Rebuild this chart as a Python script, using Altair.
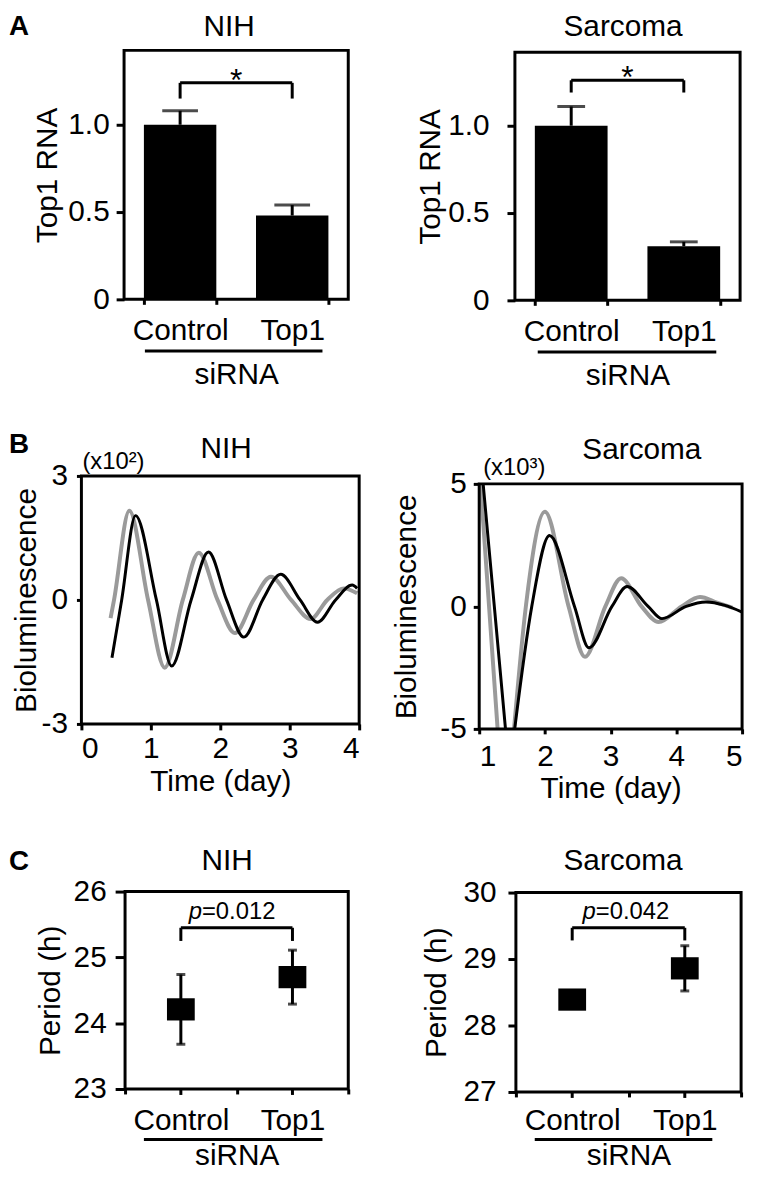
import altair as alt
import pandas as pd

FONT = "Liberation Sans"
GROUPS = ["Control", "Top1"]

# ---------------- Panel A : Top1 RNA (mean, upper error) ----------------
a_nih_mean = [1.00, 0.48]
a_nih_err = [0.08, 0.06]
a_sar_mean = [1.00, 0.31]
a_sar_err = [0.11, 0.025]
a_nih_bracket = [1.15, 1.24]   # leg bottom, bracket level
a_sar_bracket = [1.19, 1.26]

# ---------------- Panel B : bioluminescence traces (visible segments) ----------------
b_nih_ctrl_day = [0.42, 0.47, 0.69, 0.96, 1.20, 1.46, 1.69, 1.96, 2.21, 2.48, 2.73, 3.02, 3.30, 3.54, 3.78, 3.97]
b_nih_ctrl_val = [-0.44, 0.0, 2.16, 0.0, -1.64, 0.0, 1.14, 0.0, -0.80, 0.0, 0.56, 0.0, -0.46, 0.0, 0.28, 0.16]
b_nih_top1_day = [0.44, 0.58, 0.78, 1.08, 1.30, 1.58, 1.83, 2.09, 2.34, 2.61, 2.87, 3.15, 3.40, 3.66, 3.90, 3.97]
b_nih_top1_val = [-1.40, 0.0, 2.04, 0.0, -1.60, 0.0, 1.16, 0.0, -0.90, 0.0, 0.62, 0.0, -0.54, 0.0, 0.36, 0.28]

b_sar_ctrl_day = [1.02, 1.15, 1.28, 1.53, 1.71, 2.00, 2.36, 2.61, 2.92, 3.16, 3.47, 3.73, 4.08, 4.36, 4.62, 4.85]
b_sar_ctrl_val = [5.0, 0.0, -5.0, -5.0, 0.0, 3.86, 0.0, -2.06, 0.0, 1.15, 0.0, -0.64, 0.0, 0.38, 0.15, -0.05]
b_sar_ctrl_seg = [0, 0, 0, 1, 1, 1, 1, 1, 1, 1, 1, 1, 1, 1, 1, 1]
b_sar_top1_day = [1.06, 1.23, 1.40, 1.54, 1.80, 2.07, 2.45, 2.67, 3.02, 3.25, 3.57, 3.78, 4.15, 4.45, 4.74, 5.00]
b_sar_top1_val = [5.0, 0.0, -5.0, -5.0, 0.0, 2.89, 0.0, -1.69, 0.0, 0.81, 0.0, -0.50, 0.0, 0.18, 0.04, -0.23]
b_sar_top1_seg = [0, 0, 0, 1, 1, 1, 1, 1, 1, 1, 1, 1, 1, 1, 1, 1]

# ---------------- Panel C : period ----------------
c_nih_mean = [24.21, 24.70]
c_nih_err = [0.53, 0.41]
c_sar_mean = [28.39, 28.86]
c_sar_err = [0.08, 0.34]
c_nih_bracket = [25.25, 25.45]
c_sar_bracket = [29.28, 29.47]
c_nih_p = ["p", "=0.012", 25.58]
c_sar_p = ["p", "=0.042", 29.60]

# ---------------- layout (page pixels): plot box and cell box ----------------
GEOM = {
    "a_nih": dict(px=125, py=46, W=226, H=251, cell=(8, 8, 388, 402)),
    "a_sar": dict(px=519, py=48, W=227, H=250, cell=(388, 8, 758, 402)),
    "b_nih": dict(px=82, py=475, W=280, H=250, cell=(8, 402, 388, 812)),
    "b_sar": dict(px=483, py=483, W=265, H=247, cell=(388, 402, 758, 812)),
    "c_nih": dict(px=126, py=894, W=225, H=199, cell=(8, 812, 388, 1176)),
    "c_sar": dict(px=520, py=895, W=227, H=201, cell=(388, 812, 758, 1176)),
}

P_IN = 0.354
RECT = "M-1,-0.8H1V0.8H-1Z"


def geo(g):
    cx1, cy1, cx2, cy2 = g["cell"]
    L, T = g["px"] - cx1, g["py"] - cy1
    return L, T, g["W"], g["H"], cx2 - cx1, cy2 - cy1


def text_at(g, txt, x, y, size, weight="normal", align="left"):
    cx1, cy1 = g["cell"][0], g["cell"][1]
    return alt.Chart(pd.DataFrame({"t": [txt]})).mark_text(
        font=FONT, fontSize=size, fontWeight=weight, align=align,
        baseline="alphabetic", color="black"
    ).encode(text="t:N", x=alt.value(x - cx1), y=alt.value(y - cy1))


def box(g):
    L, T, W, H, _, _ = geo(g)
    return alt.Chart(pd.DataFrame({"f": [0]})).mark_rect(
        fillOpacity=0, stroke="black", strokeWidth=3).encode(
        x=alt.value(L), x2=alt.value(L + W), y=alt.value(T), y2=alt.value(T + H))


def underline(g, x1, x2, y):
    cx1, cy1 = g["cell"][0], g["cell"][1]
    return alt.Chart(pd.DataFrame({"f": [0]})).mark_rule(color="black", strokeWidth=3).encode(
        x=alt.value(x1 - cx1), x2=alt.value(x2 - cx1), y=alt.value(y - cy1))


def heads(g, title, tx, ty, letter=None, lxy=None):
    out = [box(g), text_at(g, title, tx, ty, 30, align="center")]
    if letter:
        out.append(text_at(g, letter, lxy[0], lxy[1], 28, weight="bold"))
    return out


def bar_panel(g, title, means, errs, bracket, ymax, ylab, ytit, xlab, xtit, cap_w, ul, head):
    L, T, W, H, CW, CH = geo(g)
    df = pd.DataFrame({"group": GROUPS, "mean": means,
                       "hi": [m + e for m, e in zip(means, errs)]})
    xs = alt.Scale(domain=GROUPS, range=[L, L + W], paddingInner=P_IN, paddingOuter=P_IN / 2)
    ys = alt.Scale(domain=[0, ymax], range=[T + H, T], nice=False, zero=True)
    xaxis = alt.Axis(title="siRNA", tickBand="extent", labelAngle=0, tickSize=5,
                     labelPadding=xlab, titlePadding=xtit, offset=T + H - CH)
    yaxis = alt.Axis(title="Top1 RNA", values=[0, 0.5, 1.0],
                     labelExpr="datum.value == 0 ? '0' : format(datum.value, '.1f')",
                     tickSize=8, labelPadding=ylab, titlePadding=ytit, offset=-L)

    def X(f, **kw):
        return alt.X(f, scale=xs, axis=xaxis, **kw)

    def Y(f, **kw):
        return alt.Y(f, scale=ys, axis=yaxis, **kw)

    base = alt.Chart(df)
    bars = base.mark_bar(color="black").encode(x=X("group:N"), y=Y("mean:Q"))
    err = base.mark_rule(color="black", strokeWidth=3).encode(
        x=X("group:N"), y=Y("mean:Q"), y2="hi:Q")
    cap = base.mark_tick(color="black", thickness=3, size=cap_w).encode(
        x=X("group:N"), y=Y("hi:Q"))
    br = pd.DataFrame({"group": ["Control"], "group2": ["Top1"],
                       "lo": [bracket[0]], "top": [bracket[1]]})
    hline = alt.Chart(br).mark_rule(color="black", strokeWidth=3).encode(
        x=X("group:N", bandPosition=0.5),
        x2=alt.X2(field="group2", bandPosition=0.5),
        y=Y("top:Q"))
    legs_df = pd.DataFrame({"group": GROUPS, "lo": [bracket[0]] * 2, "top": [bracket[1]] * 2})
    legs = alt.Chart(legs_df).mark_rule(color="black", strokeWidth=3).encode(
        x=X("group:N"), y=Y("lo:Q"), y2="top:Q")
    gap = W / 2 * P_IN / 2
    star = alt.Chart(br).mark_text(text="*", font=FONT, fontSize=32, color="black",
                                   baseline="alphabetic", dy=8, dx=gap).encode(
        x=X("group:N", bandPosition=1), y=Y("top:Q"))
    layers = [bars, err, cap, hline, legs, star, underline(g, *ul)] + heads(g, title, *head)
    return alt.layer(*layers).properties(width=CW, height=CH)


def lum_panel(g, title, cday, cval, cseg, tday, tval, tseg, xdom, ydom, ylab, ytit, ytick,
              xlab, xtit, xtick, note, nxy, head):
    L, T, W, H, CW, CH = geo(g)
    dfc = pd.DataFrame({"day": cday, "val": cval, "seg": cseg})
    dft = pd.DataFrame({"day": tday, "val": tval, "seg": tseg})
    xs = alt.Scale(domain=xdom, range=[L, L + W], nice=False, zero=False)
    ys = alt.Scale(domain=ydom, range=[T + H, T], nice=False, zero=False)
    xaxis = alt.Axis(title="Time (day)", values=list(range(xdom[0], xdom[1] + 1)),
                     format="d", tickSize=xtick, labelPadding=xlab, titlePadding=xtit,
                     offset=T + H - CH)
    yaxis = alt.Axis(title="Bioluminescence", values=[ydom[0], 0, ydom[1]],
                     labelExpr="datum.value + ''", tickSize=ytick,
                     labelPadding=ylab, titlePadding=ytit, offset=-L)
    gray = alt.Chart(dfc).mark_line(color="#9a9a9a", strokeWidth=4,
                                    interpolate="monotone").encode(
        x=alt.X("day:Q", scale=xs, axis=xaxis), y=alt.Y("val:Q", scale=ys, axis=yaxis),
        detail="seg:N")
    black = alt.Chart(dft).mark_line(color="black", strokeWidth=3,
                                     interpolate="monotone").encode(
        x=alt.X("day:Q", scale=xs, axis=xaxis), y=alt.Y("val:Q", scale=ys, axis=yaxis),
        detail="seg:N")
    layers = [gray, black, text_at(g, note, nxy[0], nxy[1], 24)] + heads(g, title, *head)
    return alt.layer(*layers).properties(width=CW, height=CH)


def period_panel(g, title, means, errs, bracket, ydom, ylab, ytit, ytick, xlab, xtit,
                 ptext, pdx, ul, head):
    L, T, W, H, CW, CH = geo(g)
    df = pd.DataFrame({"group": GROUPS, "mean": means,
                       "lo": [m - e for m, e in zip(means, errs)],
                       "hi": [m + e for m, e in zip(means, errs)]})
    xs = alt.Scale(domain=GROUPS, range=[L, L + W], paddingInner=0, paddingOuter=0)
    ys = alt.Scale(domain=ydom, range=[T + H, T], nice=False, zero=False)
    xaxis = alt.Axis(title="siRNA", tickBand="extent", labelAngle=0, tickSize=5,
                     labelPadding=xlab, titlePadding=xtit, offset=T + H - CH)
    yaxis = alt.Axis(title="Period (h)", values=list(range(ydom[0], ydom[1] + 1)),
                     tickSize=ytick, labelPadding=ylab, titlePadding=ytit, offset=-L)

    def X(f, **kw):
        return alt.X(f, scale=xs, axis=xaxis, **kw)

    def Y(f, **kw):
        return alt.Y(f, scale=ys, axis=yaxis, **kw)

    base = alt.Chart(df)
    err = base.mark_rule(color="black", strokeWidth=3).encode(
        x=X("group:N"), y=Y("lo:Q"), y2="hi:Q")
    cap_hi = base.mark_tick(color="black", thickness=3, size=9).encode(
        x=X("group:N"), y=Y("hi:Q"))
    cap_lo = base.mark_tick(color="black", thickness=3, size=9).encode(
        x=X("group:N"), y=Y("lo:Q"))
    pts = base.mark_point(filled=True, shape=RECT, size=784, opacity=1, color="black",
                          strokeWidth=0).encode(x=X("group:N"), y=Y("mean:Q"))
    cticks = base.mark_rule(color="black", strokeWidth=3).encode(
        x=X("group:N"), y=alt.value(T + H), y2=alt.value(T + H + 6))
    br = pd.DataFrame({"group": ["Control"], "group2": ["Top1"],
                       "lo": [bracket[0]], "top": [bracket[1]],
                       "p": [ptext[0]], "rest": [ptext[1]], "py": [ptext[2]]})
    hline = alt.Chart(br).mark_rule(color="black", strokeWidth=3).encode(
        x=X("group:N", bandPosition=0.5),
        x2=alt.X2(field="group2", bandPosition=0.5),
        y=Y("top:Q"))
    legs_df = pd.DataFrame({"group": GROUPS, "lo": [bracket[0]] * 2, "top": [bracket[1]] * 2})
    legs = alt.Chart(legs_df).mark_rule(color="black", strokeWidth=3).encode(
        x=X("group:N"), y=Y("lo:Q"), y2="top:Q")
    p_it = alt.Chart(br).mark_text(font=FONT, fontSize=24, fontStyle="italic", color="black",
                                   align="right", baseline="alphabetic", dx=pdx).encode(
        x=X("group:N", bandPosition=1), y=Y("py:Q"), text="p:N")
    p_rest = alt.Chart(br).mark_text(font=FONT, fontSize=24, color="black",
                                     align="left", baseline="alphabetic", dx=pdx).encode(
        x=X("group:N", bandPosition=1), y=Y("py:Q"), text="rest:N")
    layers = [err, cap_hi, cap_lo, pts, cticks, hline, legs, p_it, p_rest,
              underline(g, *ul)] + heads(g, title, *head)
    return alt.layer(*layers).properties(width=CW, height=CH)


a_nih = bar_panel(GEOM["a_nih"], "NIH", a_nih_mean, a_nih_err, a_nih_bracket, 1.426,
                  7, 5, 11, 15, 36, (146, 325, 349), (231, 32, "A", (9, 31)))
a_sar = bar_panel(GEOM["a_sar"], "Sarcoma", a_sar_mean, a_sar_err, a_sar_bracket, 1.42,
                  18, 2, 11, 15, 28, (542, 722, 350), (628, 32))

b_nih = lum_panel(GEOM["b_nih"], "NIH", b_nih_ctrl_day, b_nih_ctrl_val, [0] * len(b_nih_ctrl_day),
                  b_nih_top1_day, b_nih_top1_val, [0] * len(b_nih_top1_day),
                  [0, 4], [-3, 3], 9, 0, 5, 4, 3, 6,
                  "(x10²)", (83, 468), (228, 457, "B", (9, 452)))
b_sar = lum_panel(GEOM["b_sar"], "Sarcoma", b_sar_ctrl_day, b_sar_ctrl_val, b_sar_ctrl_seg,
                  b_sar_top1_day, b_sar_top1_val, b_sar_top1_seg,
                  [1, 5], [-5, 5], 7, 19, 6, 8, 2, 5,
                  "(x10³)", (487, 474), (647, 458))

c_nih = period_panel(GEOM["c_nih"], "NIH", c_nih_mean, c_nih_err, c_nih_bracket, [23, 26],
                     9, 8, 10, 12, 5, c_nih_p, -35, (145, 325, 1144), (229, 872, "C", (9, 872)))
c_sar = period_panel(GEOM["c_sar"], "Sarcoma", c_sar_mean, c_sar_err, c_sar_bracket, [27, 30],
                     12, 12, 8, 9, 5, c_sar_p, -33, (539, 718, 1144), (628, 872))

chart = alt.concat(a_nih, a_sar, b_nih, b_sar, c_nih, c_sar,
                   columns=2, align="none", bounds="flush", spacing=0).properties(
    padding=0, background="white"
).configure_view(
    strokeWidth=0
).configure_axis(
    labelFont=FONT, labelFontSize=30, labelColor="black",
    titleFont=FONT, titleFontSize=30, titleFontWeight="normal", titleColor="black",
    tickColor="black", tickWidth=3, domain=False, grid=False
)

chart.save("out.html", embed_options={"renderer": "svg", "actions": False})
